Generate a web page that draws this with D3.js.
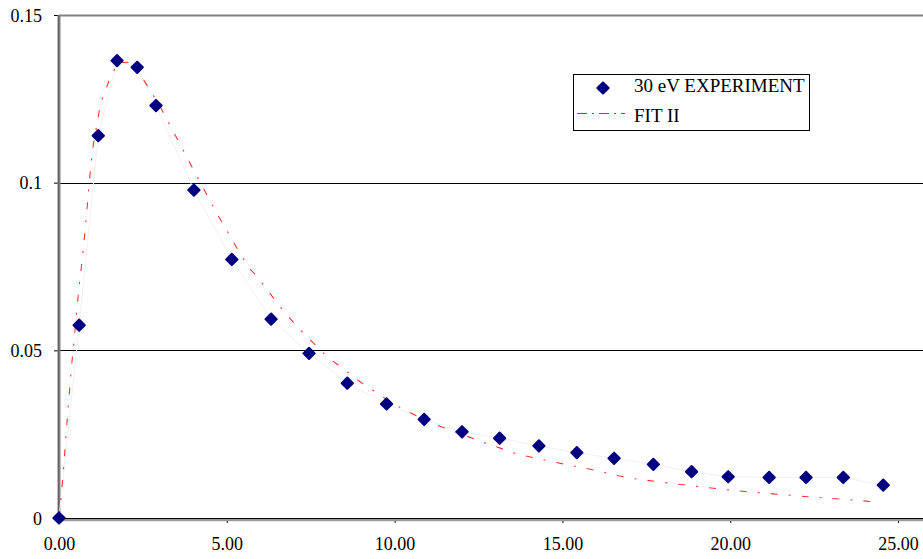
<!DOCTYPE html>
<html>
<head>
<meta charset="utf-8">
<script src="https://cdn.jsdelivr.net/npm/d3@7/dist/d3.min.js"></script>
<style>
html,body{margin:0;padding:0;background:#fff;}
svg{display:block;}
text{font-family:"Liberation Serif","Times New Roman",serif;fill:#000;}
</style>
</head>
<body>
<svg id="chart" width="923" height="559"></svg>
<script>
// Experiment (30 eV)
const expX = [0, 0.60, 1.17, 1.73, 2.33, 2.89, 4.02, 5.15, 6.32, 7.45, 8.59, 9.76, 10.88, 12.01, 13.13, 14.30, 15.43, 16.54, 17.71, 18.85, 19.94, 21.16, 22.26, 23.37, 24.56];
const expY = [0, 0.0575, 0.1140, 0.1364, 0.1344, 0.1230, 0.0978, 0.0771, 0.0593, 0.0491, 0.0402, 0.0340, 0.0294, 0.0257, 0.0238, 0.0215, 0.0195, 0.0178, 0.0160, 0.0138, 0.0123, 0.0121, 0.0121, 0.0121, 0.0098];
// FIT II
const fitX = [0, 0.05, 0.13, 0.21, 0.29, 0.37, 0.45, 0.53, 0.61, 0.69, 0.77, 0.85, 0.92, 1.00, 1.24, 1.48, 1.75, 2.12, 2.50, 3.00, 3.55, 4.00, 4.65, 5.41, 5.69, 5.89, 6.64, 7.16, 8.00, 8.99, 10.00, 11.00, 12.52, 13.67, 14.79, 15.94, 16.67, 17.09, 18.26, 18.95, 19.75, 20.51, 21.28, 22.38, 23.50, 24.31];
const fitY = [0, 0.0050, 0.0140, 0.0250, 0.0350, 0.0450, 0.0530, 0.0620, 0.0700, 0.0770, 0.0850, 0.0940, 0.1020, 0.1100, 0.1237, 0.1301, 0.1358, 0.1359, 0.1310, 0.1230, 0.1125, 0.1040, 0.0918, 0.0786, 0.0742, 0.0722, 0.0623, 0.0564, 0.0480, 0.0405, 0.0338, 0.0287, 0.0230, 0.0190, 0.0166, 0.0143, 0.0126, 0.0118, 0.0103, 0.0095, 0.0086, 0.0078, 0.0072, 0.0063, 0.0055, 0.0048];
const xTicks = [0, 5, 10, 15, 20, 25];
const yTicks = [0, 0.05, 0.1, 0.15];
const yTickLabels = ["0", "0.05", "0.1", "0.15"];
const seriesNames = ["30 eV EXPERIMENT", "FIT II"];

const svg = d3.select("#chart");
const pLeft = 59, pRight = 923, pTop = 15, pBottom = 518;
const x = d3.scaleLinear().domain([0, 25]).range([pLeft, 898]);
const y = d3.scaleLinear().domain([0, 0.15]).range([pBottom, pTop]);

// gridlines
svg.append("g").selectAll("line").data([0.05, 0.1]).join("line")
  .attr("x1", pLeft).attr("x2", pRight)
  .attr("y1", d => Math.round(y(d)) + 0.5).attr("y2", d => Math.round(y(d)) + 0.5)
  .attr("stroke", "#000").attr("stroke-width", 1);

// top border
svg.append("line").attr("x1", pLeft).attr("x2", pRight).attr("y1", pTop + 0.5).attr("y2", pTop + 0.5)
  .attr("stroke", "#808080").attr("stroke-width", 2);

// y axis
const yAxis = d3.axisLeft(y).tickValues(yTicks).tickSize(4).tickPadding(12)
  .tickFormat((d, i) => yTickLabels[i]);
const gy = svg.append("g").attr("transform", `translate(${pLeft - 1},0)`).call(yAxis);
gy.select(".domain").remove();
gy.selectAll(".tick line").attr("stroke", "#000");
gy.selectAll(".tick text").style("font-size", "18px").attr("dy", "0.35em")
  .style("font-family", "'Liberation Serif', serif");
svg.append("line").attr("x1", pLeft).attr("x2", pLeft).attr("y1", pTop).attr("y2", pBottom + 2)
  .attr("stroke", "#808080").attr("stroke-width", 3);
svg.append("line").attr("x1", pLeft - 0.5).attr("x2", pLeft - 0.5).attr("y1", pTop).attr("y2", pBottom + 2)
  .attr("stroke", "#606060").attr("stroke-width", 1);

// x axis
const xAxis = d3.axisBottom(x).tickValues(xTicks).tickSize(5).tickPadding(14)
  .tickFormat(d3.format(".2f"));
const gx = svg.append("g").attr("transform", `translate(0,${pBottom})`).call(xAxis);
gx.select(".domain").remove();
gx.selectAll(".tick line").attr("stroke", "#000");
gx.selectAll(".tick text").style("font-size", "18px")
  .style("font-family", "'Liberation Serif', serif");
svg.append("line").attr("x1", pLeft).attr("x2", pRight).attr("y1", pBottom + 2).attr("y2", pBottom + 2)
  .attr("stroke", "#9a9a9a").attr("stroke-width", 2.5);
svg.append("line").attr("x1", pLeft).attr("x2", pRight).attr("y1", pBottom + 0.5).attr("y2", pBottom + 0.5)
  .attr("stroke", "#000").attr("stroke-width", 1.2);

// faint connecting line of experiment
const expData = expX.map((v, i) => [v, expY[i]]);
svg.append("path").datum(expData)
  .attr("d", d3.line().x(d => x(d[0])).y(d => y(d[1])))
  .attr("fill", "none").attr("stroke", "#f0f0f5").attr("stroke-width", 1);

// fit line
const fitData = fitX.map((v, i) => [v, fitY[i]]);
svg.append("path").datum(fitData)
  .attr("d", d3.line().x(d => x(d[0])).y(d => y(d[1])))
  .attr("fill", "none").attr("stroke", "#ff0000").attr("stroke-width", 1.1)
  .attr("stroke-dasharray", "7,11,2,11").attr("opacity", 0.8);

// markers
const marker = d3.symbol().type(d3.symbolSquare).size(64);
svg.append("g").selectAll("path").data(expData).join("path")
  .attr("d", marker)
  .attr("transform", d => `translate(${x(d[0])},${y(d[1])}) rotate(45)`)
  .attr("fill", "#000080").attr("stroke", "#000080").attr("stroke-width", 2)
  .attr("stroke-linejoin", "round");

// legend
const lg = svg.append("g");
lg.append("rect").attr("x", 573.5).attr("y", 74.5).attr("width", 236).attr("height", 56)
  .attr("fill", "#fff").attr("stroke", "#000").attr("stroke-width", 1);
lg.append("path").attr("d", marker)
  .attr("transform", "translate(603,88) rotate(45)")
  .attr("fill", "#000080").attr("stroke", "#000080").attr("stroke-width", 2).attr("stroke-linejoin", "round");
lg.append("line").attr("x1", 577).attr("x2", 625).attr("y1", 113.5).attr("y2", 113.5)
  .attr("stroke", "#ff0000").attr("stroke-width", 1.2).attr("stroke-dasharray", "10,5,2,5").attr("opacity", 0.85);
lg.append("text").attr("x", 634).attr("y", 92).style("font-size", "19px").text(seriesNames[0]);
lg.append("text").attr("x", 634).attr("y", 122).style("font-size", "19px").text(seriesNames[1]);
</script>
</body>
</html>
